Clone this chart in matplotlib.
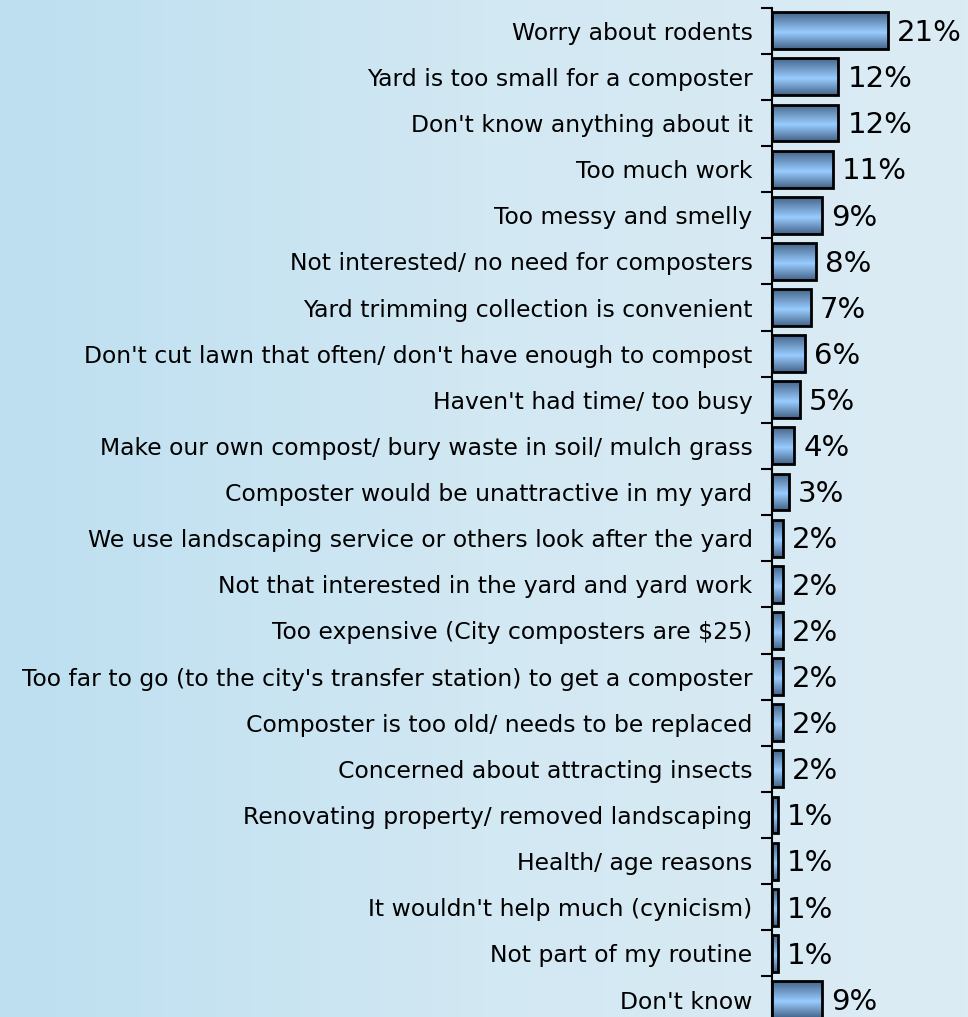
import numpy as np
import matplotlib.pyplot as plt
from matplotlib.colors import LinearSegmentedColormap

reasons = [
    "Worry about rodents",
    "Yard is too small for a composter",
    "Don't know anything about it",
    "Too much work",
    "Too messy and smelly",
    "Not interested/ no need for composters",
    "Yard trimming collection is convenient",
    "Don't cut lawn that often/ don't have enough to compost",
    "Haven't had time/ too busy",
    "Make our own compost/ bury waste in soil/ mulch grass",
    "Composter would be unattractive in my yard",
    "We use landscaping service or others look after the yard",
    "Not that interested in the yard and yard work",
    "Too expensive (City composters are $25)",
    "Too far to go (to the city's transfer station) to get a composter",
    "Composter is too old/ needs to be replaced",
    "Concerned about attracting insects",
    "Renovating property/ removed landscaping",
    "Health/ age reasons",
    "It wouldn't help much (cynicism)",
    "Not part of my routine",
    "Don't know",
]
percent = [21, 12, 12, 11, 9, 8, 7, 6, 5, 4, 3, 2, 2, 2, 2, 2, 2, 1, 1, 1, 1, 9]

fig = plt.figure(figsize=(9.68, 10.17), dpi=100)

# light blue wash behind everything, lighter to the right
bg = fig.add_axes([0, 0, 1, 1], zorder=0)
bg_cmap = LinearSegmentedColormap.from_list('bg', ['#bddff0', '#d2e8f3', '#dcecf5'])
bg.imshow(np.linspace(0, 1, 256).reshape(1, -1), cmap=bg_cmap, aspect='auto',
          extent=[0, 1, 0, 1])
bg.set_axis_off()

n = len(reasons)
ax = fig.add_axes([0.7975, -0.0055, 0.2025, 0.998], zorder=1)
ax.patch.set_alpha(0)
y = np.arange(n)
bars = ax.barh(y, percent, height=0.8, facecolor='none', edgecolor='black',
               linewidth=2, zorder=3)

# shaded fill: dark at the edges, light just below the middle
bar_cmap = LinearSegmentedColormap.from_list(
    'bar', [(0, '#45658a'), (0.55, '#99ccff'), (1, '#45658a')])
grad = np.linspace(0, 1, 100).reshape(-1, 1)
for b, yi, v in zip(bars, y, percent):
    im = ax.imshow(grad, cmap=bar_cmap, aspect='auto',
                   extent=[0, v, yi + 0.4, yi - 0.4], zorder=2)
    im.set_clip_path(b)
    ax.text(v + 1.65, yi + 0.05, f'{v}%', va='center', ha='left',
            fontsize=21, color='black')

ax.set_xlim(0, 35.5)
ax.set_ylim(n - 0.5, -0.5)

ax.set_yticks(y)
ax.set_yticklabels(reasons, fontsize=16.9)
ax.tick_params(axis='y', which='major', length=0, pad=14)
ax.set_yticks(np.arange(n) - 0.5, minor=True)
ax.tick_params(axis='y', which='minor', length=8, width=1.5, direction='out')

ax.spines['left'].set_linewidth(1.5)
for s in ['top', 'right', 'bottom']:
    ax.spines[s].set_visible(False)
ax.get_xaxis().set_visible(False)

fig.savefig('out.png', dpi=100)
